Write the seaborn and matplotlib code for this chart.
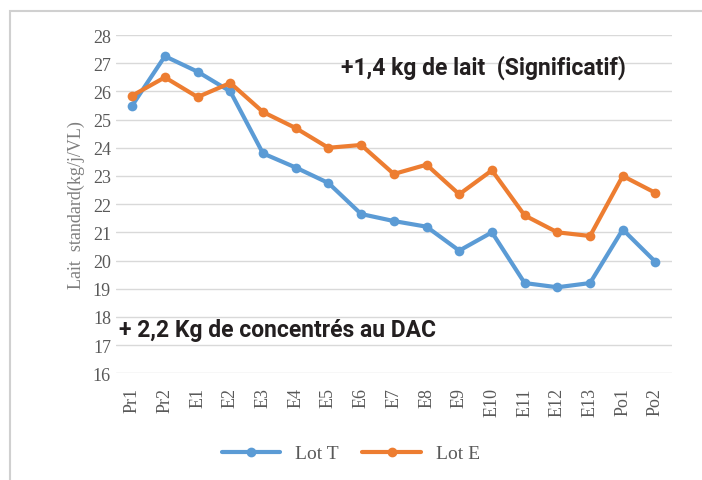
import matplotlib
matplotlib.use('Agg')
import matplotlib.pyplot as plt
import seaborn as sns
import pandas as pd
from matplotlib.patches import Rectangle

periodes = ['Pr1', 'Pr2', 'E1', 'E2', 'E3', 'E4', 'E5', 'E6', 'E7', 'E8', 'E9',
            'E10', 'E11', 'E12', 'E13', 'Po1', 'Po2']
lot_t = [25.5, 27.25, 26.7, 26.0, 23.8, 23.3, 22.75, 21.65, 21.4, 21.2, 20.35,
         21.0, 19.2, 19.05, 19.2, 21.1, 19.95]
lot_e = [25.85, 26.5, 25.8, 26.3, 25.27, 24.7, 24.0, 24.1, 23.07, 23.4, 22.35,
         23.2, 21.6, 21.0, 20.87, 23.0, 22.4]
series = ['Lot T', 'Lot E']
couleurs = ['#5B9BD5', '#ED7D31']

df = pd.DataFrame({
    'periode': periodes * 2,
    'lait': lot_t + lot_e,
    'lot': ['Lot T'] * len(periodes) + ['Lot E'] * len(periodes),
})

sns.set_style('white')
fig = plt.figure(figsize=(7.02, 4.81), dpi=100)
ax = fig.add_axes([0.165, 0.222, 0.792, 0.703])

sns.lineplot(data=df, x='periode', y='lait', hue='lot', hue_order=series,
             palette=couleurs, marker='o', markersize=7, markeredgewidth=0,
             linewidth=3, sort=False, ax=ax, legend=False)

ax.set_ylim(16, 28)
ax.set_xlim(-0.5, len(periodes) - 0.5)
ax.set_yticks(range(16, 29))
ax.yaxis.grid(True, color='#d9d9d9', linewidth=1)
ax.set_axisbelow(True)
for s in ax.spines.values():
    s.set_visible(False)
ax.tick_params(axis='both', length=0, labelcolor='#595959', labelsize=13)
ax.tick_params(axis='x', pad=10)
for lab in ax.get_xticklabels() + ax.get_yticklabels():
    lab.set_fontfamily('Liberation Serif')
plt.setp(ax.get_xticklabels(), rotation=90)
ax.set_xlabel('')
ax.set_ylabel('Lait  standard(kg/j/VL)', fontfamily='Liberation Serif',
              fontsize=13, color='#7f7f7f', labelpad=6)

ax.text(0.405, 0.885, '+1,4 kg de lait  (Significatif)', transform=ax.transAxes,
        fontsize=16.5, fontweight='bold', fontfamily='Roboto', color='#231f20')
ax.text(0.005, 0.11, '+ 2,2 Kg de concentrés au DAC', transform=ax.transAxes,
        fontsize=16.5, fontweight='bold', fontfamily='Roboto', color='#231f20')

handles = [plt.Line2D([], [], color=c, marker='o', markersize=6, linewidth=3)
           for c in couleurs]
leg = fig.legend(handles, series, loc='center', bbox_to_anchor=(0.5, 0.055),
                 ncol=2, frameon=False, handlelength=3, columnspacing=1.2,
                 prop={'family': 'Liberation Serif', 'size': 14})
for t in leg.get_texts():
    t.set_color('#595959')

fig.patches.append(Rectangle((0.014, -0.01), 1.0, 0.986, transform=fig.transFigure,
                             fill=False, edgecolor='#d0d0d0', linewidth=1.5))

fig.savefig('out.png', dpi=100)
